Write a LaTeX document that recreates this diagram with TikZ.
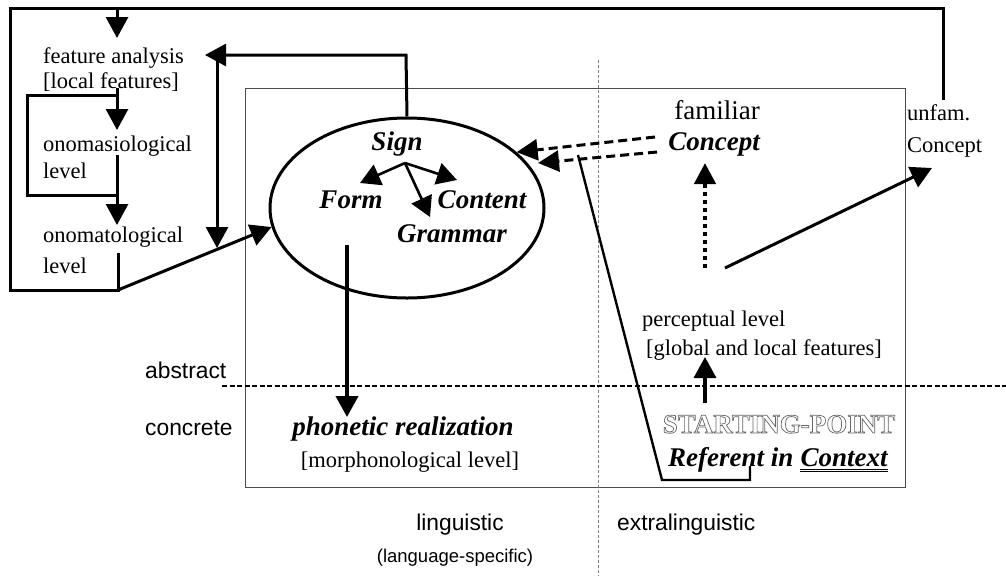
\documentclass[tikz,border=0pt]{standalone}
\usepackage{fontspec}
\setmainfont{Liberation Serif}
\setsansfont{Liberation Sans}
\usetikzlibrary{arrows.meta,shapes.geometric}
\definecolor{framec}{gray}{0.3}
\newcommand{\outlinetext}[1]{\special{pdf:literal direct 1 Tr 0.7 w 0.4 G}#1\special{pdf:literal direct 0 Tr 0 G}}
\begin{document}
\begin{tikzpicture}[x=1pt,y=-1pt,
  txt/.style={inner sep=0pt,font=\fontsize{22.5}{26}\selectfont},
  big/.style={inner sep=0pt,font=\fontsize{27}{31}\selectfont\bfseries\itshape},
  sans/.style={inner sep=0pt,font=\fontsize{22.8}{26}\selectfont\sffamily},
  thk/.style={line width=3pt},
  arr/.style={thk,-{Triangle[length=21pt,width=22pt]}},
  med/.style={line width=2.6pt,-{Triangle[length=20pt,width=22pt]}},
  dsh/.style={thk,dash pattern=on 9pt off 5pt,-{Triangle[length=21pt,width=21pt]}},
  dotarr/.style={line width=4.5pt,dash pattern=on 4pt off 4pt,-{Triangle[length=21pt,width=21pt]}}
]
\fill[white] (0,0) rectangle (1006,576);
\useasboundingbox (0,0) rectangle (1006,576);

% frame and dividing lines
\draw[framec,line width=1pt] (245,88) rectangle (905,487);
\draw[gray,line width=0.9pt,dash pattern=on 3pt off 2pt] (598,60) -- (598,576);
\draw[line width=1.4pt,dash pattern=on 5pt off 2.5pt] (222,386) -- (1006,386);

% ellipse
\node[draw,ellipse,thk,minimum width=274pt,minimum height=180pt,inner sep=0pt] (sg) at (407,208) {};

% texts
\node[txt,anchor=base west] (fa) at (43,63) {feature analysis};
\node[txt,anchor=base west] (lf) at (43,88) {[local features]};
\node[txt,anchor=base west] (om1) at (43,151) {onomasiological};
\node[txt,anchor=base west] (om2) at (43,178) {level};
\node[txt,anchor=base west] (ot1) at (43,242) {onomatological};
\node[txt,anchor=base west] (ot2) at (43,273) {level};
\node[big,anchor=base] (sign) at (397,150) {Sign};
\node[big,anchor=base] (form) at (351,208) {Form};
\node[big,anchor=base] (content) at (482,208) {Content};
\node[big,anchor=base] (gram) at (452,242) {Grammar};
\node[txt,font=\fontsize{27}{31}\selectfont,anchor=base] (fam) at (717,119) {familiar};
\node[big,anchor=base] (concept) at (714,150) {Concept};
\node[txt,anchor=base west] (unf1) at (907,120) {unfam.};
\node[txt,anchor=base west] (unf2) at (907,152) {Concept};
\node[txt,anchor=base west] (perc1) at (642,326) {perceptual level};
\node[txt,anchor=base west] (perc2) at (646,355) {[global and local features]};
\node[inner sep=0pt,font=\fontsize{27}{31}\selectfont\bfseries,anchor=base] (start) at (779,433)
  {\outlinetext{STARTING-POINT}};
\node[big,anchor=base west] (ref) at (668,466) {Referent in};
\node[big,anchor=base west,xshift=6.75pt] (ctx) at (ref.base east) {Context};
\draw[line width=0.9pt] ([yshift=-3pt]ctx.base west) -- ([yshift=-3pt]ctx.base east);
\draw[line width=0.9pt] ([yshift=-5.5pt]ctx.base west) -- ([yshift=-5.5pt]ctx.base east);
\node[big,anchor=base] (phon) at (403,435) {phonetic realization};
\node[txt,anchor=base] (morph) at (410,467) {[morphonological level]};
\node[sans,anchor=base west] (abs) at (145,378) {abstract};
\node[sans,anchor=base west] (conc) at (145,435) {concrete};
\node[sans,anchor=base] (ling) at (460,530) {linguistic};
\node[sans,font=\fontsize{18.5}{22}\selectfont\sffamily,anchor=base] (lang) at (455,562) {(language-specific)};
\node[sans,anchor=base west] (extra) at (617,530) {extralinguistic};

% coordinates
\coordinate (otb) at (118,253);
\coordinate (bl) at (118,290);
\coordinate (blc) at (10,290);
\coordinate (tlc) at (10,8);
\coordinate (trc) at (943,8);
\coordinate (unft) at (943,100);
\coordinate (fatop) at (117,8);
\coordinate (fain) at (117,38);

% outer feedback loop
\draw[thk] (otb) -- (bl) -- (blc) -- (tlc) -- (trc) -- (unft);
\draw[arr] (fatop) -- (fain);

% bracket loop and level arrows
\draw[thk] (117,95) -- (27,95) -- (27,195) -- (117,195);
\draw[arr] (117,88) -- (117,130);
\draw[arr] (117,155) -- (117,225);

% sign back to feature analysis
\coordinate (sgup) at (406,55);
\coordinate (fatip) at (205,55);
\draw[arr] (sg.north) -- (sgup) -- (fatip);
\draw[arr] (217,57) -- (217,248);

% onomatological to sign
\draw[arr] (bl) -- (sg.188);

% inside the sign
\coordinate (sp) at (405,163);
\draw[med] (sp) -- (360,183);
\draw[med] (sp) -- (457,180);
\draw[med] (sp) -- (430,217);

% to phonetic realization
\draw[arr,line width=4pt] (347,245) -- (347,417);

% familiar concept to sign
\draw[dsh] (655,137) -- (sg.27);
\draw[dsh] (657,152) -- (538,163);

% referent line
\draw[line width=2.4pt] (578,155) -- (662,480) -- (750,480) -- (750,466);

% perceptual level to concepts
\draw[dotarr] (705,268) -- (705,163);
\draw[arr] (725,268) -- (932,168);
\draw[arr,line width=3.5pt] (705,403) -- (705,357);
\end{tikzpicture}
\end{document}
